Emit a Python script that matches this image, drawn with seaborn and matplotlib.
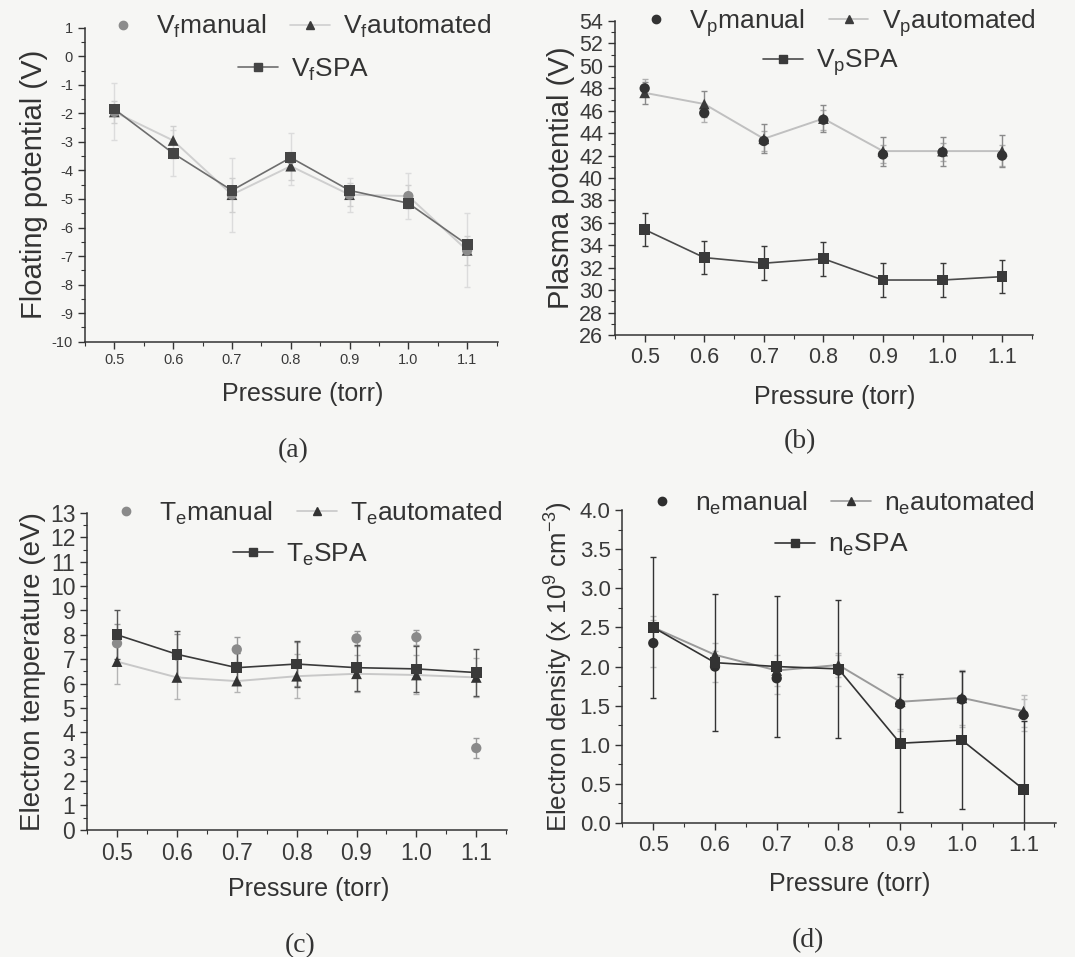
import numpy as np
import pandas as pd
import matplotlib
matplotlib.use("Agg")
import matplotlib.pyplot as plt
from matplotlib.lines import Line2D
from matplotlib.ticker import MultipleLocator, FormatStrFormatter
import seaborn as sns

sns.set_theme(style="ticks")
plt.rcParams['font.family'] = ['Liberation Sans', 'DejaVu Sans']
plt.rcParams['mathtext.fontset'] = 'custom'
plt.rcParams['mathtext.rm'] = 'Liberation Sans'
plt.rcParams['mathtext.it'] = 'Liberation Sans'

pressure = [0.5, 0.6, 0.7, 0.8, 0.9, 1.0, 1.1]

# (a) floating potential
vf_manual = [-1.95, -3.4, -4.85, -3.6, -4.85, -4.9, -6.8]
vf_manual_err = [1.0, 0.8, 1.3, 0.9, 0.6, 0.8, 1.3]
vf_auto = [-1.95, -2.95, -4.85, -3.85, -4.85, -4.9, -6.8]
vf_auto_err = [0.4, 0.5, 0.6, 0.5, 0.4, 0.4, 0.5]
vf_spa = [-1.85, -3.4, -4.7, -3.55, -4.7, -5.15, -6.6]
vf_spa_err = [0.15, 0.15, 0.15, 0.15, 0.15, 0.15, 0.15]

# (b) plasma potential
vp_manual = [48.0, 45.8, 43.3, 45.2, 42.1, 42.3, 42.0]
vp_manual_err = [0.8, 0.8, 0.9, 0.9, 0.8, 0.8, 0.9]
vp_auto = [47.6, 46.6, 43.5, 45.3, 42.4, 42.4, 42.4]
vp_auto_err = [1.0, 1.2, 1.3, 1.2, 1.3, 1.3, 1.4]
vp_spa = [35.4, 32.9, 32.4, 32.8, 30.9, 30.9, 31.2]
vp_spa_err = [1.5, 1.5, 1.5, 1.5, 1.5, 1.5, 1.5]

# (c) electron temperature
te_manual = [7.65, 7.15, 7.4, 6.8, 7.85, 7.9, 3.35]
te_manual_err = [0.8, 0.9, 0.5, 0.9, 0.3, 0.3, 0.4]
te_auto = [6.9, 6.25, 6.1, 6.3, 6.4, 6.35, 6.25]
te_auto_err = [0.9, 0.9, 0.45, 0.9, 0.75, 0.8, 0.8]
te_spa = [8.0, 7.2, 6.65, 6.8, 6.65, 6.6, 6.45]
te_spa_err = [1.0, 0.95, 0.6, 0.95, 0.95, 0.95, 0.95]

# (d) electron density
ne_manual = [2.3, 2.0, 1.85, 1.95, 1.52, 1.58, 1.38]
ne_manual_err = [0.3, 0.2, 0.2, 0.2, 0.35, 0.35, 0.2]
ne_auto = [2.5, 2.15, 1.95, 2.02, 1.55, 1.6, 1.43]
ne_auto_err = [0.15, 0.15, 0.2, 0.15, 0.35, 0.35, 0.2]
ne_spa = [2.5, 2.05, 2.0, 1.97, 1.02, 1.06, 0.43]
ne_spa_err = [0.9, 0.88, 0.9, 0.88, 0.88, 0.88, 0.88]

BG = '#f6f6f4'
W, H = 1075, 957
fig = plt.figure(figsize=(W / 100, H / 100), dpi=100, facecolor=BG)

panels = [
    dict(rect=[0.079, 0.643, 0.384, 0.328], sym='f', base='V',
         data=(vf_manual, vf_manual_err, vf_auto, vf_auto_err, vf_spa, vf_spa_err),
         ylim=(-10, 1), ymaj=1, ymin=0.5, yfmt='%d', ylabel='Floating potential (V)',
         tick_fs=10.5, ylab_fs=21, xlab_off=40,
         c_man='#8c8c8c', c_auto='#3c3c3c', l_auto='#cfcfcf', c_spa='#454545', l_spa='#6e6e6e',
         e_man='#dcdcdc', e_auto='#d0d0d0', e_spa='#9a9a9a',
         leg1=(0.045, 1.003), leg2=(0.372, 0.866),
         letter='(a)', letter_px=(293, 451)),
    dict(rect=[0.572, 0.650, 0.389, 0.328], sym='p', base='V',
         data=(vp_manual, vp_manual_err, vp_auto, vp_auto_err, vp_spa, vp_spa_err),
         ylim=(26, 54), ymaj=2, ymin=1, yfmt='%d', ylabel='Plasma potential (V)',
         tick_fs=15.5, ylab_fs=21, xlab_off=50,
         c_man='#333333', c_auto='#3c3c3c', l_auto='#c0c0c0', c_spa='#3a3a3a', l_spa='#4a4a4a',
         e_man='#b0b0b0', e_auto='#8a8a8a', e_spa='#3a3a3a',
         leg1=(0.052, 0.994), leg2=(0.355, 0.866),
         letter='(b)', letter_px=(800, 442)),
    dict(rect=[0.081, 0.133, 0.391, 0.331], sym='e', base='T',
         data=(te_manual, te_manual_err, te_auto, te_auto_err, te_spa, te_spa_err),
         ylim=(0, 13), ymaj=1, ymin=0.5, yfmt='%d', ylabel='Electron temperature (eV)',
         tick_fs=16.5, ylab_fs=20, xlab_off=47,
         c_man='#8a8a8a', c_auto='#333333', l_auto='#c8c8c8', c_spa='#3a3a3a', l_spa='#3a3a3a',
         e_man='#9a9a9a', e_auto='#b4b4b4', e_spa='#555555',
         leg1=(0.046, 1.0), leg2=(0.348, 0.868),
         letter='(c)', letter_px=(300, 946)),
    dict(rect=[0.579, 0.140, 0.403, 0.327], sym='e', base='n',
         data=(ne_manual, ne_manual_err, ne_auto, ne_auto_err, ne_spa, ne_spa_err),
         ylim=(0, 4.0), ymaj=0.5, ymin=0.25, yfmt='%.1f',
         ylabel='Electron density (x 10$^{9}$ cm$^{-3}$)',
         tick_fs=16, ylab_fs=18.5, xlab_off=49,
         c_man='#2e2e2e', c_auto='#333333', l_auto='#9a9a9a', c_spa='#333333', l_spa='#333333',
         e_man='#bdbdbd', e_auto='#bdbdbd', e_spa='#333333',
         leg1=(0.045, 1.022), leg2=(0.352, 0.888),
         letter='(d)', letter_px=(808, 941)),
]

for p in panels:
    ax = fig.add_axes(p['rect'])
    ax.set_facecolor(BG)
    man, man_e, aut, aut_e, spa, spa_e = p['data']
    df = pd.DataFrame({'p': pressure, 'man': man, 'aut': aut, 'spa': spa})

    ax.errorbar(pressure, man, yerr=man_e, fmt='none', ecolor=p['e_man'], elinewidth=1.0, capsize=2.5, zorder=1)
    ax.errorbar(pressure, aut, yerr=aut_e, fmt='none', ecolor=p['e_auto'], elinewidth=1.0, capsize=2.5, zorder=1)
    ax.errorbar(pressure, spa, yerr=spa_e, fmt='none', ecolor=p['e_spa'], elinewidth=1.0, capsize=2.5, zorder=2)

    sns.lineplot(data=df, x='p', y='aut', ax=ax, color=p['l_auto'], lw=1.4, zorder=2)
    sns.scatterplot(data=df, x='p', y='aut', ax=ax, marker='^', color=p['c_auto'], s=60, edgecolor='none', zorder=4)
    sns.lineplot(data=df, x='p', y='spa', ax=ax, color=p['l_spa'], lw=1.2, zorder=3)
    sns.scatterplot(data=df, x='p', y='spa', ax=ax, marker='s', color=p['c_spa'], s=60, edgecolor='none', zorder=5)
    sns.scatterplot(data=df, x='p', y='man', ax=ax, marker='o', color=p['c_man'], s=55, edgecolor='none', zorder=4)

    ax.set_xlim(0.45, 1.152)
    ax.set_ylim(*p['ylim'])
    ax.xaxis.set_major_locator(MultipleLocator(0.1))
    ax.xaxis.set_minor_locator(MultipleLocator(0.05))
    ax.xaxis.set_major_formatter(FormatStrFormatter('%.1f'))
    ax.yaxis.set_major_locator(MultipleLocator(p['ymaj']))
    ax.yaxis.set_minor_locator(MultipleLocator(p['ymin']))
    ax.yaxis.set_major_formatter(FormatStrFormatter(p['yfmt']))
    for s in ['top', 'right']:
        ax.spines[s].set_visible(False)
    for s in ['left', 'bottom']:
        ax.spines[s].set_color('#333333')
        ax.spines[s].set_linewidth(1.1)
    ax.tick_params(which='major', direction='out', length=5, width=1, colors='#333333',
                   labelsize=p['tick_fs'], labelcolor='#3a3a3a')
    ax.tick_params(which='minor', direction='out', length=3, width=0.8, colors='#333333')

    axw = p['rect'][2] * W
    axh = p['rect'][3] * H
    ax.set_xlabel('Pressure (torr)', fontsize=18, color='#333333')
    ax.xaxis.set_label_coords(0.5 + 11 / axw, -p['xlab_off'] / axh)
    ax.set_ylabel(p['ylabel'], fontsize=p['ylab_fs'], color='#333333', labelpad=3)

    sub, base = p['sym'], p['base']
    lab_man = f'{base}$_\\mathregular{{{sub}}}$manual'
    lab_aut = f'{base}$_\\mathregular{{{sub}}}$automated'
    lab_spa = f'{base}$_\\mathregular{{{sub}}}$SPA'
    h_man = Line2D([], [], ls='none', marker='o', color=p['c_man'], ms=6)
    h_aut = Line2D([], [], ls='-', lw=1.2, marker='^', color=p['l_auto'], mfc=p['c_auto'], mec=p['c_auto'], ms=6)
    h_spa = Line2D([], [], ls='-', lw=1.2, marker='s', color=p['l_spa'], mfc=p['c_spa'], mec=p['c_spa'], ms=6)
    common = dict(frameon=False, fontsize=19, handlelength=1.5, handletextpad=0.5,
                  borderpad=0, borderaxespad=0, labelcolor='#333333', loc='center left')
    leg1 = ax.legend([h_man, h_aut], [lab_man, lab_aut], ncol=2, columnspacing=0.9,
                     bbox_to_anchor=p['leg1'], **common)
    ax.add_artist(leg1)
    ax.legend([h_spa], [lab_spa], bbox_to_anchor=p['leg2'], **common)

    lx, ly = p['letter_px']
    fig.text(lx / W, 1 - ly / H, p['letter'], fontsize=20, ha='center', va='center',
             family=['Liberation Serif', 'DejaVu Serif'], color='#333333')

fig.savefig('out.png', dpi=100, facecolor=BG)
